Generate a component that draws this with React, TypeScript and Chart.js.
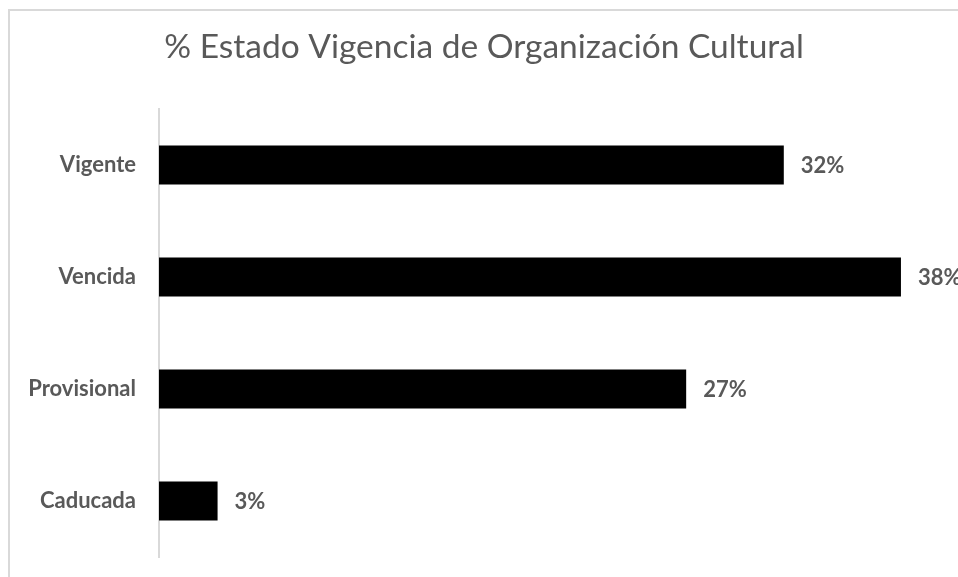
import React, { useEffect, useRef } from "react";
import { Chart, registerables } from "chart.js";

Chart.register(...registerables);

const TITLE = "% Estado Vigencia de Organización Cultural";
const categories = ["Vigente", "Vencida", "Provisional", "Caducada"];
const values = [32, 38, 27, 3];
const valueLabels = ["32%", "38%", "27%", "3%"];

const TEXT_COLOR = "#595959";
const FONT = "Lato, 'Open Sans', sans-serif";

const titlePlugin = {
  id: "customTitle",
  afterDraw(chart: any) {
    const { ctx } = chart;
    ctx.save();
    ctx.font = `400 33.5px ${FONT}`;
    ctx.fillStyle = TEXT_COLOR;
    ctx.textAlign = "center";
    ctx.textBaseline = "alphabetic";
    ctx.fillText(TITLE, chart.width / 2, 47);
    ctx.restore();
  },
};

const valueLabelPlugin = {
  id: "valueLabels",
  afterDatasetsDraw(chart: any) {
    const { ctx } = chart;
    const meta = chart.getDatasetMeta(0);
    ctx.save();
    ctx.font = `bold 22px ${FONT}`;
    ctx.fillStyle = TEXT_COLOR;
    ctx.textAlign = "left";
    ctx.textBaseline = "middle";
    meta.data.forEach((bar: any, i: number) => {
      ctx.fillText(valueLabels[i], bar.x + 17, bar.y + 1);
    });
    ctx.restore();
  },
};

export default function App() {
  const ref = useRef<HTMLCanvasElement | null>(null);

  useEffect(() => {
    if (!ref.current) return;
    const chart = new Chart(ref.current, {
      type: "bar",
      data: {
        labels: categories,
        datasets: [
          {
            data: values,
            backgroundColor: "#000000",
            borderWidth: 0,
            categoryPercentage: 1,
            barPercentage: 0.35,
          },
        ],
      },
      options: {
        indexAxis: "y",
        animation: false,
        responsive: false,
        maintainAspectRatio: false,
        layout: { padding: { left: 0, right: 18, top: 98, bottom: 20 } },
        plugins: {
          legend: { display: false },
          tooltip: { enabled: false },
          title: { display: false },
        },
        scales: {
          x: {
            display: false,
            min: 0,
            max: 40,
          },
          y: {
            afterFit(scale: any) {
              scale.width = 149;
              scale.paddingTop = 0;
              scale.paddingBottom = 0;
            },
            grid: { display: false, drawTicks: false },
            border: { display: true, color: "#d9d9d9", width: 2 },
            ticks: {
              color: TEXT_COLOR,
              padding: 23,
              font: { family: FONT, size: 22, weight: "bold" as any },
            },
          },
        },
      },
      plugins: [valueLabelPlugin, titlePlugin],
    });
    return () => chart.destroy();
  }, []);

  return (
    <div
      style={{
        position: "fixed",
        left: 8,
        top: 9,
        width: 950,
        height: 568,
        overflow: "hidden",
        boxSizing: "border-box",
        borderTop: "2px solid #d9d9d9",
        borderLeft: "2px solid #d9d9d9",
        background: "#ffffff",
      }}
    >
      <canvas
        ref={ref}
        width={948}
        height={566}
        style={{ display: "block", width: 948, height: 566 }}
      />
    </div>
  );
}
